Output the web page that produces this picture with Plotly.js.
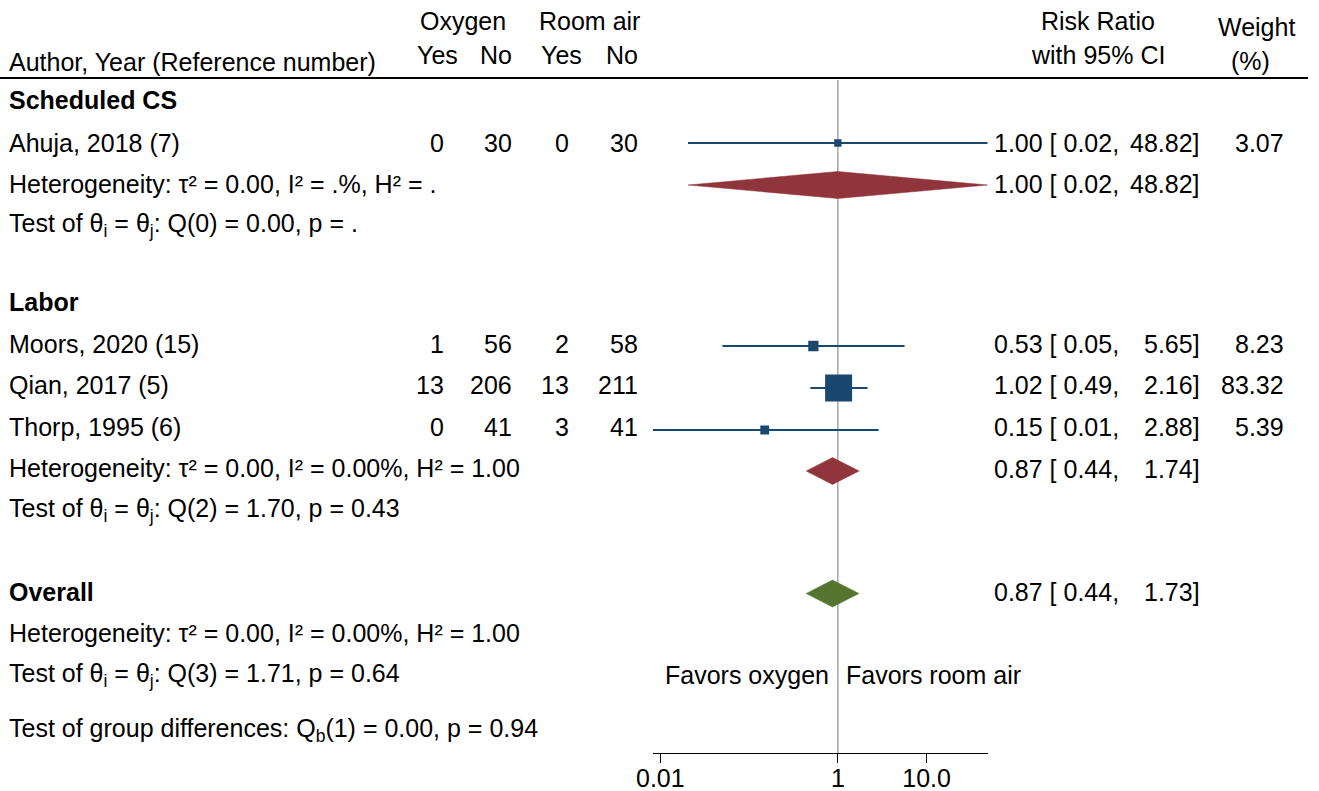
<!DOCTYPE html>
<html>
<head>
<meta charset="utf-8">
<script src="https://cdn.plot.ly/plotly-3.0.1.min.js"></script>
<style>html,body{margin:0;padding:0;background:#fff;}#chart{width:1319px;height:791px;}</style>
</head>
<body>
<div id="chart"></div>
<script>
// ---------- DATA ----------
const studies = ['Ahuja, 2018 (7)', 'Moors, 2020 (15)', 'Qian, 2017 (5)', 'Thorp, 1995 (6)'];
const oxyYes = [0, 1, 13, 0];
const oxyNo = [30, 56, 206, 41];
const airYes = [0, 2, 13, 3];
const airNo = [30, 58, 211, 41];
const rr = [1.00, 0.53, 1.02, 0.15];
const rrLo = [0.0205, 0.05, 0.49, 0.0082];
const rrHi = [48.82, 5.65, 2.16, 2.88];
const weight = [3.07, 8.23, 83.32, 5.39];

const groups = ['Scheduled CS', 'Labor'];
const groupRR = [1.00, 0.87];
const groupLo = [0.0205, 0.44];
const groupHi = [48.82, 1.74];
const groupHet = ['τ² = 0.00, I² = .%, H² = .', 'τ² = 0.00, I² = 0.00%, H² = 1.00'];
const groupQ = ['Q(0) = 0.00, p = .', 'Q(2) = 1.70, p = 0.43'];

const overallRR = 0.87, overallLo = 0.44, overallHi = 1.73;
const overallHet = 'τ² = 0.00, I² = 0.00%, H² = 1.00';
const overallQ = 'Q(3) = 1.71, p = 0.64';
const groupDiff = 'Q<sub>b</sub>(1) = 0.00, p = 0.94';

const tickVals = [0.01, 1, 10];
const tickText = ['0.01', '1', '10.0'];

// ---------- LAYOUT POSITIONS (pixels) ----------
const W = 1319, H = 791;
const AX_L = 652.7, AX_R = 987.7, AX_Y = 753;
const studyY = [143, 344, 385, 427];
const markY = [143, 346, 388, 430];
const groupHeadY = [100, 302];
const groupTxtY = [184, 469];
const groupDiaY = [185, 471];
const groupHetY = [184, 468];
const groupQY = [225, 510];
const overallY = 592, overallDiaY = 593.5, overallHetY = 633, overallQY = 675, diffY = 730;
const DIA_H = 13.5;

const FONT = 'Liberation Sans, Arial, Helvetica, sans-serif';
const FS = 25;
const BLUE = '#1a476f', RED = '#90353b', GREEN = '#55752f';

const ann = [];
function txt(x, y, t, xa, bold) {
  xa = xa || 'left';
  const dx = xa === 'left' ? -2 : (xa === 'right' ? 2 : 0);
  ann.push({xref: 'paper', yref: 'y', x: (x + dx) / W, y: y, text: bold ? '<b>' + t + '</b>' : t,
    xanchor: xa, yanchor: 'middle', showarrow: false, borderpad: 0,
    font: {family: FONT, size: FS, color: '#000'}});
}

// header
txt(463, 21, 'Oxygen', 'center');
txt(589, 21, 'Room air', 'center');
txt(10, 62, 'Author, Year (Reference number)', 'left');
txt(457, 55, 'Yes', 'right');
txt(511, 55, 'No', 'right');
txt(581, 55, 'Yes', 'right');
txt(637, 55, 'No', 'right');
txt(1098, 21, 'Risk Ratio', 'center');
txt(1098, 55, 'with 95% CI', 'center');
txt(1256, 27, 'Weight', 'center');
txt(1250, 61, '(%)', 'center');

function ciLeft(e, l) { return e.toFixed(2) + ' [ ' + l.toFixed(2) + ','; }
function ciRight(h) { return h.toFixed(2) + ']'; }

// groups
groups.forEach((g, gi) => {
  txt(10, groupHeadY[gi], g, 'left', true);
  txt(10, groupHetY[gi], 'Heterogeneity: ' + groupHet[gi], 'left');
  txt(10, groupQY[gi], 'Test of θ<sub>i</sub> = θ<sub>j</sub>: ' + groupQ[gi], 'left');
  txt(995, groupTxtY[gi], ciLeft(groupRR[gi], groupLo[gi]), 'left');
  txt(1199, groupTxtY[gi], ciRight(groupHi[gi]), 'right');
});
// studies
studies.forEach((s, i) => {
  const y = studyY[i];
  txt(10, y, s, 'left');
  txt(443, y, String(oxyYes[i]), 'right');
  txt(511, y, String(oxyNo[i]), 'right');
  txt(568, y, String(airYes[i]), 'right');
  txt(637, y, String(airNo[i]), 'right');
  txt(995, y, ciLeft(rr[i], rrLo[i]), 'left');
  txt(1199, y, ciRight(rrHi[i]), 'right');
  txt(1283, y, weight[i].toFixed(2), 'right');
});
// overall
txt(10, overallY, 'Overall', 'left', true);
txt(10, overallHetY, 'Heterogeneity: ' + overallHet, 'left');
txt(10, overallQY, 'Test of θ<sub>i</sub> = θ<sub>j</sub>: ' + overallQ, 'left');
txt(10, diffY, 'Test of group differences: ' + groupDiff, 'left');
txt(995, overallY, ciLeft(overallRR, overallLo), 'left');
txt(1199, overallY, ciRight(overallHi), 'right');
txt(828, overallQY, 'Favors oxygen', 'right');
txt(847, overallQY, 'Favors room air', 'left');

// ---------- TRACES ----------
const traces = [];
// null line
traces.push({x: [1, 1], y: [80, AX_Y], mode: 'lines', line: {color: '#a6a6a6', width: 1.5},
  hoverinfo: 'skip', showlegend: false});
// CI lines
studies.forEach((s, i) => {
  traces.push({x: [rrLo[i], rrHi[i]], y: [markY[i], markY[i]], mode: 'lines',
    line: {color: BLUE, width: 1.8}, hoverinfo: 'skip', showlegend: false});
});
// squares (area proportional to weight)
traces.push({x: rr, y: markY, mode: 'markers', type: 'scatter',
  marker: {symbol: 'square', color: BLUE, opacity: 1,
    size: weight.map(w => 2.6 + 2.67 * Math.sqrt(w)), line: {width: 0}},
  showlegend: false, text: studies});
// diamonds
function diamond(e, l, h, y, col) {
  traces.push({x: [l, e, h, e, l], y: [y, y - DIA_H, y, y + DIA_H, y], mode: 'lines', fill: 'toself',
    fillcolor: col, line: {color: col, width: 0.5}, hoverinfo: 'skip', showlegend: false});
}
groups.forEach((g, gi) => diamond(groupRR[gi], groupLo[gi], groupHi[gi], groupDiaY[gi], RED));
diamond(overallRR, overallLo, overallHi, overallDiaY, GREEN);

const layout = {
  width: W, height: H,
  margin: {l: 0, r: 0, t: 0, b: 0},
  paper_bgcolor: '#fff', plot_bgcolor: '#fff',
  showlegend: false,
  xaxis: {
    type: 'log', domain: [AX_L / W, AX_R / W],
    range: [Math.log10(rrLo[3]), Math.log10(rrHi[0])],
    tickvals: tickVals, ticktext: tickText,
    ticks: 'outside', ticklen: 9, tickwidth: 1, tickcolor: '#000',
    ticklabelstandoff: -6,
    showline: true, linecolor: '#000', linewidth: 1,
    showgrid: false, zeroline: false,
    tickfont: {family: FONT, size: FS, color: '#000'}
  },
  yaxis: {
    domain: [(H - AX_Y) / H, 1], range: [AX_Y, 0],
    visible: false, showgrid: false, zeroline: false
  },
  shapes: [{type: 'line', xref: 'paper', yref: 'y', x0: 0, x1: 1308 / W, y0: 78, y1: 78,
    line: {color: '#000', width: 2}}],
  annotations: ann
};

Plotly.newPlot('chart', traces, layout, {staticPlot: true, displayModeBar: false});
</script>
</body>
</html>
